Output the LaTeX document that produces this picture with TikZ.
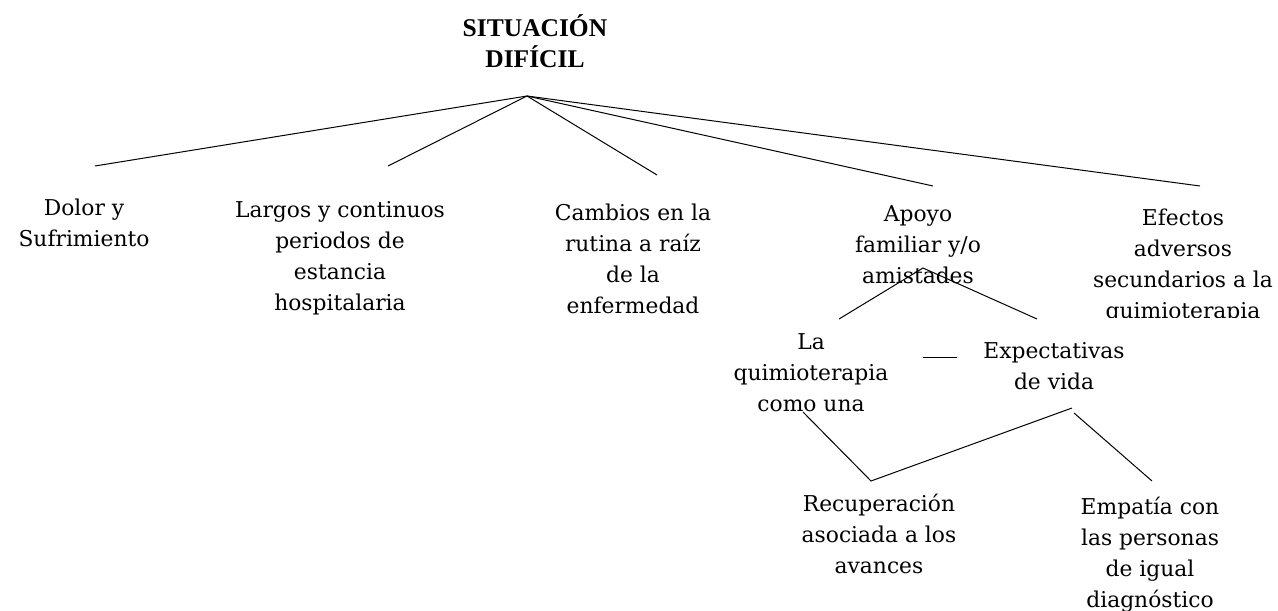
\documentclass[tikz,border=0pt]{standalone}
\usepackage{fontspec}
\setmainfont{DejaVu Serif}
\newfontfamily\titulofont{Liberation Serif}

\tikzset{
  rama/.style={align=center, inner sep=0pt, font=\fontsize{10.9}{15.5}\selectfont},
  titulo/.style={align=center, inner sep=0pt, font=\titulofont\bfseries\fontsize{12.75}{15.5}\selectfont}
}

\begin{document}
\begin{tikzpicture}[x=0.5pt, y=-0.5pt, line width=0.5pt]

  \useasboundingbox (0,0) rectangle (1278,610);

  % Define points of the tree
  \coordinate (raiz) at (527, 96);
  \coordinate (fDolor) at (95, 166);
  \coordinate (fLargos) at (388, 166);
  \coordinate (fCambios) at (657, 175);
  \coordinate (fApoyo) at (933, 186);
  \coordinate (fEfectos) at (1200, 186);

  \coordinate (subraiz) at (923, 268);
  \coordinate (fQuimio) at (839, 319);
  \coordinate (fExpect) at (1037, 319);

  \coordinate (guionA) at (923, 357);
  \coordinate (guionB) at (957, 357);

  \coordinate (vA) at (803, 412);
  \coordinate (vB) at (871, 481);
  \coordinate (vC) at (1072, 408);
  \coordinate (eA) at (1074, 413);
  \coordinate (eB) at (1152, 481);

  % 1. title
  \node[titulo] (titulo) at (535, 41) {SITUACIÓN\\DIFÍCIL};

  % 2. first level
  \node[rama] (dolor) at (84, 223) {Dolor y\\Sufrimiento};
  \node[rama] (largos) at (340, 258) {Largos y continuos\\periodos de\\estancia\\hospitalaria};
  \node[rama] (cambios) at (633, 259) {Cambios en la\\rutina a raíz\\de la\\enfermedad};
  \node[rama] (apoyo) at (918, 245) {Apoyo\\familiar y/o\\amistades};
  \begin{scope}
    \clip (1050, 180) rectangle (1278, 317);
    \node[rama] (efectos) at (1183, 266) {Efectos\\adversos\\secundarios a la\\quimioterapia};
  \end{scope}

  % 3. second level
  \node[rama] (quimio) at (811, 373) {La\\quimioterapia\\como una};
  \node[rama] (expect) at (1054, 366) {Expectativas\\de vida};
  \node[rama] (recup) at (879, 534) {Recuperación\\asociada a los\\avances};
  \node[rama] (empatia) at (1150, 555) {Empatía con\\las personas\\de igual\\diagnóstico};

  % Branches
  \foreach \fin in {fDolor, fLargos, fCambios, fApoyo, fEfectos}
    \draw (raiz) -- (\fin);
  \draw (fQuimio) -- (subraiz) -- (fExpect);
  \draw (guionA) -- (guionB);
  \draw (vA) -- (vB) -- (vC);
  \draw (eA) -- (eB);

\end{tikzpicture}
\end{document}
